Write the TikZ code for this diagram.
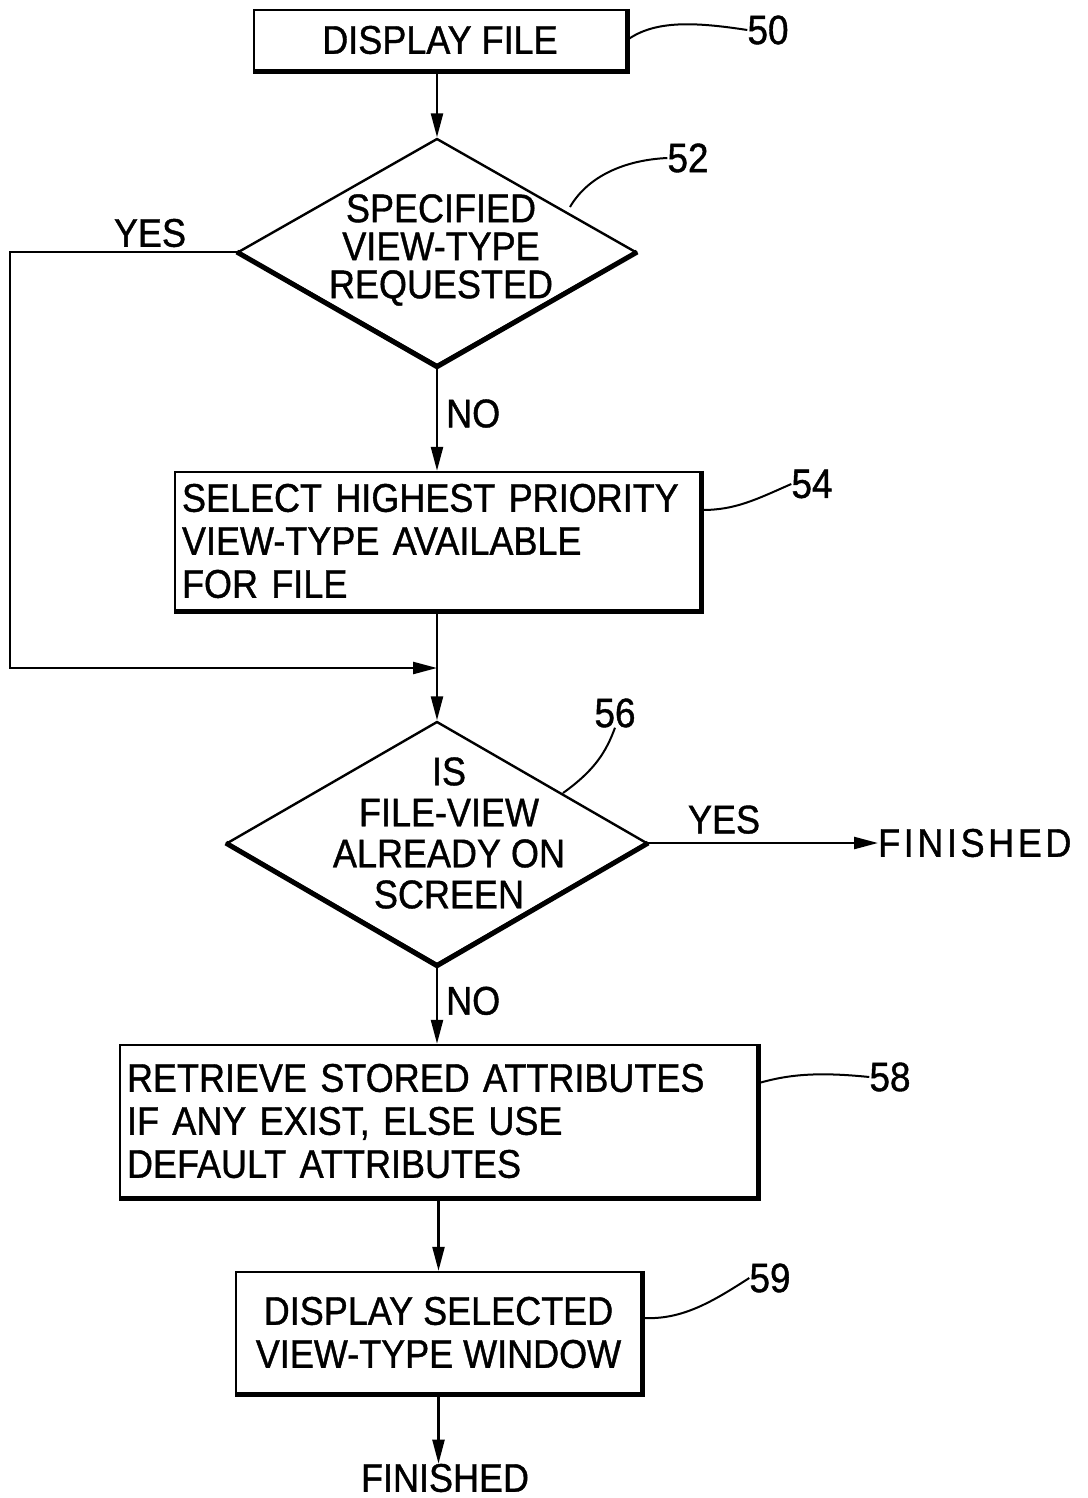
\documentclass[tikz,border=0pt]{standalone}
\usepackage{fontspec}
\setmainfont{Liberation Sans}[FakeStretch=0.9, FakeBold=1]
\usetikzlibrary{shapes.geometric,arrows.meta}
\begin{document}
\begin{tikzpicture}[x=1pt,y=-1pt,
  txt/.style={font=\fontsize{40}{43}\selectfont, inner sep=0pt},
  boxn/.style={draw, line width=2.4pt, inner sep=0pt, txt},
  dia/.style={diamond, draw, line width=2.4pt, inner sep=0pt},
  flow/.style={line width=2.4pt, -{Triangle[length=24pt,width=12pt]}},
  plain/.style={line width=2.4pt},
  shadow/.style={line width=5pt},
  lead/.style={line width=2pt},
  num/.style={font=\fontsize{41}{44}\selectfont, inner sep=0pt}]
\useasboundingbox (0,0) rectangle (1087,1498);

% box 50
\node[boxn, minimum width=372pt, minimum height=60pt] (b50) at (440,40) {DISPLAY FILE};
\draw[shadow] (b50.north east) -- (b50.south east) -- (b50.south west);
\node[num] (n50) at (768,30) {50};
\draw[lead] (b50.east) .. controls (655,20) and (695,22) .. (n50.west);

% diamond 52
\node[dia, minimum width=398pt, minimum height=227pt] (d52) at (437,252) {};
\draw[shadow] (d52.west) -- (d52.south) -- (d52.east);
\node[txt, align=center, font=\fontsize{40}{38}\selectfont] (t52) at (441,250) {SPECIFIED\\VIEW-TYPE\\REQUESTED};
\node[num] (n52) at (688,158) {52};
\coordinate (l52) at (570,207);
\draw[lead] (l52) .. controls (588,176) and (625,160) .. (n52.west);

% box 54
\node[boxn, minimum width=525pt, minimum height=138pt, text width=511pt, align=left] (b54) at (437.5,541) {SELECT HIGHEST PRIORITY\\VIEW-TYPE AVAILABLE\\FOR FILE};
\draw[shadow] (b54.north east) -- (b54.south east) -- (b54.south west);
\node[num] (n54) at (812,484) {54};
\coordinate (l54) at (702,510);
\draw[lead] (l54) .. controls (735,510) and (755,500) .. (n54.west);

% diamond 56
\node[dia, minimum width=420pt, minimum height=243pt] (d56) at (437,843) {};
\draw[shadow] (d56.west) -- (d56.south) -- (d56.east);
\node[txt, align=center, font=\fontsize{40}{41}\selectfont] (t56) at (449,833) {IS\\FILE-VIEW\\ALREADY ON\\SCREEN};
\node[num] (n56) at (615,713) {56};
\coordinate (l56) at (563,793);
\draw[lead] (l56) .. controls (595,770) and (606,752) .. (n56.south);
\node[txt, anchor=west, font=\fontsize{40}{43}\selectfont\addfontfeature{LetterSpace=9}] (fin1) at (878,843) {FINISHED};

% box 58
\node[boxn, minimum width=637pt, minimum height=152pt, text width=623pt, align=left] (b58) at (438.5,1121) {RETRIEVE STORED ATTRIBUTES\\IF ANY EXIST, ELSE USE\\DEFAULT ATTRIBUTES};
\draw[shadow] (b58.north east) -- (b58.south east) -- (b58.south west);
\node[num] (n58) at (890,1077) {58};
\coordinate (l58) at (759,1083);
\draw[lead] (l58) .. controls (790,1074) and (820,1072) .. (n58.west);

% box 59
\node[boxn, minimum width=405pt, minimum height=121pt, align=center] (b59) at (438.5,1332.5) {DISPLAY SELECTED\\VIEW-TYPE WINDOW};
\draw[shadow] (b59.north east) -- (b59.south east) -- (b59.south west);
\node[num] (n59) at (770,1278) {59};
\coordinate (l59) at (643,1318);
\draw[lead] (l59) .. controls (682,1320) and (712,1302) .. (n59.west);

\node[txt] (fin2) at (445,1478) {FINISHED};

% connectors
\coordinate (j1) at (437,668);
\coordinate (c1) at (10,252);
\draw[flow] (b50.south -| d52.north) -- (d52.north);
\draw[flow] (d52.south) -- (d52.south |- b54.north) node[pos=0.45, right=8pt, txt] (no1) {NO};
\draw[flow] (d52.west) -- (c1) |- (j1);
\node[txt] (yes1) at (150,233) {YES};
\draw[plain] (b54.south -| j1) -- (j1);
\draw[flow] (j1) -- (d56.north);
\draw[flow] (d56.east) -- (fin1.west) node[pos=0.33, above=8pt, txt] (yes2) {YES};
\draw[flow] (d56.south) -- (d56.south |- b58.north) node[pos=0.45, right=8pt, txt] (no2) {NO};
\draw[flow] (b58.south -| b59.north) -- (b59.north);
\draw[flow] (b59.south) -- (b59.south |- fin2.north);
\end{tikzpicture}
\end{document}
